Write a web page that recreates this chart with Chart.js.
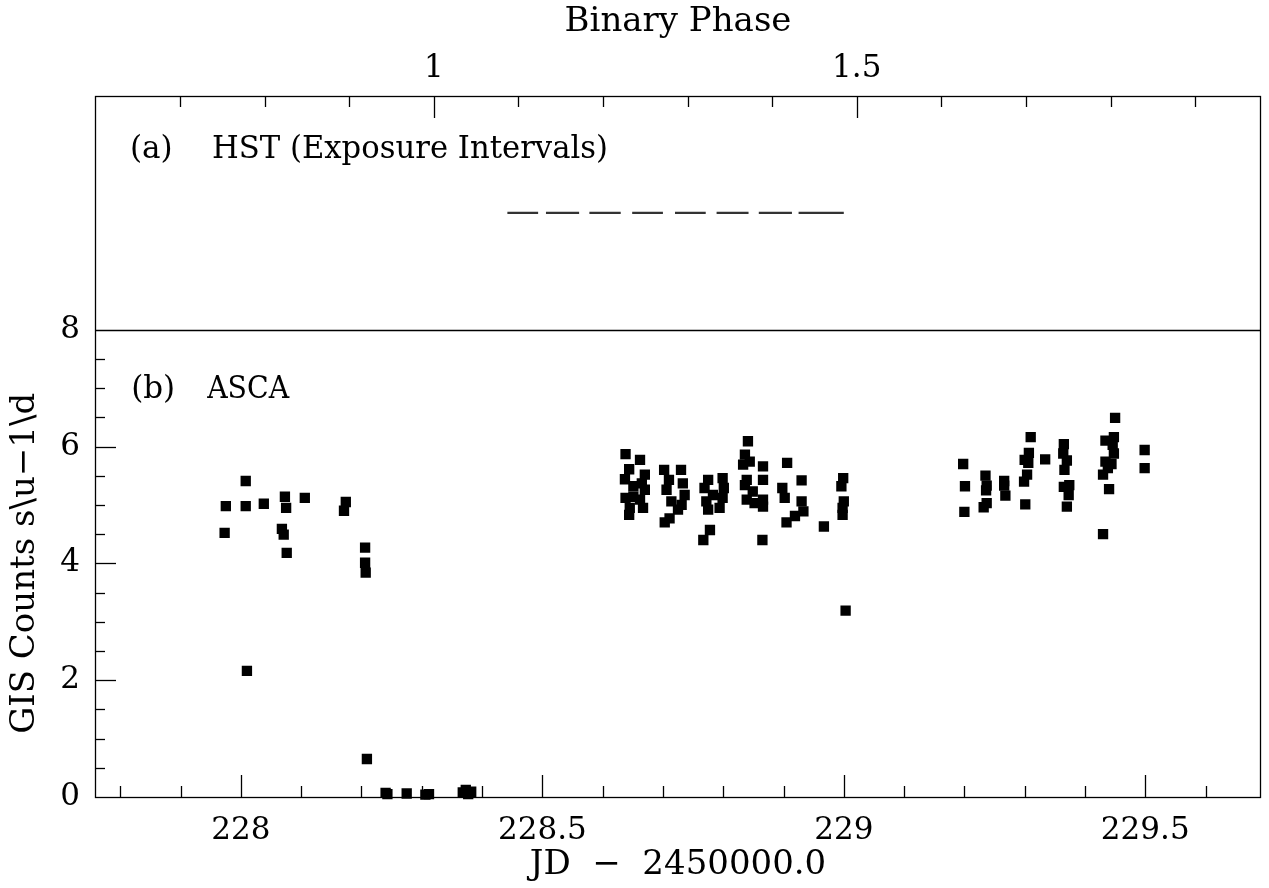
<!DOCTYPE html>
<html>
<head>
<meta charset="utf-8">
<title>HST / ASCA light curve</title>
<script src="https://cdn.jsdelivr.net/npm/chart.js@4.4.0/dist/chart.umd.min.js"></script>
<style>
  body { margin: 0; background: #fff; }
</style>
</head>
<body>
<canvas id="lightCurve" width="1269" height="888"></canvas>
<script>
// ASCA GIS count rates (JD - 2450000.0, counts/s)
const ascaJd = [
  227.973, 227.975, 228.008, 228.008, 228.010, 228.038, 228.068, 228.071, 228.073, 228.075,
  228.076, 228.106, 228.171, 228.174, 228.206, 228.206, 228.207, 228.209,
  228.240, 228.243, 228.275, 228.306, 228.312, 228.368, 228.373, 228.377, 228.382,
  228.638, 228.662, 228.644, 228.637, 228.670, 228.651, 228.665, 228.670, 228.638, 228.651,
  228.662, 228.645, 228.667, 228.644,
  228.702, 228.730, 228.710, 228.733, 228.706, 228.736, 228.714, 228.731, 228.725, 228.711, 228.703,
  228.775, 228.799, 228.769, 228.801, 228.783, 228.799, 228.772, 228.794, 228.775, 228.778, 228.767,
  228.841, 228.836, 228.844, 228.833, 228.866, 228.839, 228.866, 228.836, 228.849, 228.839,
  228.852, 228.866, 228.866, 228.865,
  228.906, 228.898, 228.902, 228.930, 228.930, 228.933, 228.919, 228.905, 228.967,
  228.999, 228.996, 229.000, 228.998, 228.998, 229.003,
  229.198, 229.201, 229.200, 229.235, 229.237, 229.236, 229.237, 229.232, 229.266, 229.266,
  229.268, 229.301, 229.310, 229.307, 229.300, 229.306, 229.304, 229.299, 229.334,
  229.365, 229.364, 229.370, 229.366, 229.374, 229.365, 229.373, 229.370,
  229.450, 229.448, 229.434, 229.446, 229.448, 229.434, 229.444, 229.438, 229.430, 229.440,
  229.430, 229.499, 229.499
];
const ascaCounts = [
  4.52, 4.98, 5.41, 4.98, 2.16, 5.02, 4.59, 4.49, 5.14, 4.95,
  4.18, 5.12, 4.90, 5.05, 4.27, 4.01, 3.84, 0.65,
  0.07, 0.05, 0.06, 0.04, 0.05, 0.08, 0.12, 0.05, 0.09,
  5.87, 5.77, 5.61, 5.44, 5.52, 5.32, 5.37, 5.26, 5.12, 5.14,
  5.09, 4.95, 4.95, 4.83,
  5.60, 5.60, 5.43, 5.37, 5.26, 5.17, 5.06, 5.00, 4.92, 4.77, 4.70,
  5.43, 5.46, 5.29, 5.29, 5.17, 5.12, 5.06, 4.95, 4.92, 4.57, 4.40,
  6.09, 5.86, 5.74, 5.69, 5.66, 5.43, 5.43, 5.34, 5.23, 5.09,
  5.03, 5.09, 4.97, 4.40,
  5.72, 5.29, 5.12, 5.42, 5.06, 4.89, 4.81, 4.70, 4.63,
  5.46, 5.32, 5.06, 4.95, 4.83, 3.19,
  5.70, 5.32, 4.88, 5.50, 5.33, 5.25, 5.03, 4.96, 5.41, 5.33,
  5.16, 5.01, 6.16, 5.89, 5.77, 5.72, 5.52, 5.40, 5.78,
  6.04, 5.88, 5.76, 5.60, 5.34, 5.31, 5.17, 4.97,
  6.49, 6.16, 6.10, 6.03, 5.88, 5.74, 5.70, 5.63, 5.52, 5.27,
  4.50, 5.94, 5.63
];

// HST exposure intervals (JD - 2450000.0)
const hstStart = [228.442, 228.506, 228.578, 228.649, 228.720, 228.789, 228.859, 228.925];
const hstEnd   = [228.493, 228.561, 228.630, 228.700, 228.771, 228.842, 228.914, 229.000];
const hstLevel = 10;

// axes
const jdTickLabels = [228, 228.5, 229, 229.5];
const countTickLabels = [0, 2, 4, 6, 8];
const phaseTickLabels = [1, 1.5];
const jdMin = 227.758, jdMax = 229.692;
const period = 1.403, phaseOneJd = 228.320;
const toPhase = jd => 1 + (jd - phaseOneJd) / period;

const font = '"DejaVu Serif", "Liberation Serif", serif';
const titleFont = {size: 34};
Chart.defaults.font.family = font;
Chart.defaults.font.size = 31;
Chart.defaults.color = '#000';

const hstPoints = [];
hstStart.forEach((s, i) => {
  hstPoints.push({x: s, y: hstLevel}, {x: hstEnd[i], y: hstLevel}, {x: hstEnd[i], y: null});
});

function line(ctx, x1, y1, x2, y2) {
  ctx.beginPath();
  ctx.moveTo(x1, y1);
  ctx.lineTo(x2, y2);
  ctx.stroke();
}

// box, separator, inward tick marks and panel labels
const framePlugin = {
  id: 'framePlugin',
  afterDatasetsDraw(chart) {
    const {ctx, chartArea: a, scales} = chart;
    const {x, y, yA, xPhase} = scales;
    const isMajor = (list, v) => list.some(t => Math.abs(t - v) < 1e-6);
    ctx.save();
    ctx.strokeStyle = '#000';
    ctx.lineWidth = 1.3;
    ctx.strokeRect(a.left + 0.5, a.top + 0.5, a.width - 1, a.height);
    const sep = Math.round(y.getPixelForValue(8)) + 0.5;
    line(ctx, a.left, sep, a.right, sep);

    for (let k = 2278; k <= 2296; k++) {
      const v = k / 10;
      const px = Math.round(x.getPixelForValue(v)) + 0.5;
      line(ctx, px, a.bottom, px, a.bottom - (isMajor(jdTickLabels, v) ? 22 : 11));
    }
    for (let k = 7; k <= 19; k++) {
      const v = k / 10;
      const px = Math.round(xPhase.getPixelForValue(v)) + 0.5;
      line(ctx, px, a.top, px, a.top + (isMajor(phaseTickLabels, v) ? 22 : 11));
    }
    for (let k = 1; k <= 15; k++) {
      const v = k / 2;
      const py = Math.round(y.getPixelForValue(v)) + 0.5;
      line(ctx, a.left, py, a.left + (isMajor(countTickLabels, v) ? 21 : 10), py);
    }

    ctx.fillStyle = '#000';
    ctx.font = '31px ' + font;
    ctx.textBaseline = 'middle';
    ctx.textAlign = 'left';
    ctx.fillText('(a)', x.getPixelForValue(227.816), yA.getPixelForValue(11.08));
    ctx.fillText('HST (Exposure Intervals)', x.getPixelForValue(227.952), yA.getPixelForValue(11.08), 396);
    ctx.fillText('(b)', x.getPixelForValue(227.818), y.getPixelForValue(6.96));
    ctx.fillText('ASCA', x.getPixelForValue(227.944), y.getPixelForValue(6.96), 82);
    ctx.restore();
  }
};

new Chart(document.getElementById('lightCurve'), {
  type: 'scatter',
  data: {
    datasets: [{
      label: 'ASCA',
      data: ascaJd.map((jd, i) => ({x: jd, y: ascaCounts[i]})),
      yAxisID: 'y',
      pointStyle: 'rect',
      pointRadius: 7.3,
      pointBackgroundColor: '#000',
      pointBorderWidth: 0,
      clip: 10
    }, {
      label: 'HST',
      data: hstPoints,
      yAxisID: 'yA',
      showLine: true,
      spanGaps: false,
      borderColor: '#333',
      borderWidth: 2.2,
      pointRadius: 0
    }]
  },
  options: {
    responsive: false,
    animation: false,
    layout: {padding: {left: 0, right: 8, top: 0, bottom: 0}, autoPadding: false},
    plugins: {legend: {display: false}, tooltip: {enabled: false}},
    scales: {
      x: {
        type: 'linear', position: 'bottom', min: jdMin, max: jdMax,
        afterBuildTicks: s => { s.ticks = jdTickLabels.map(v => ({value: v})); },
        afterFit: s => { s.height = 91; },
        ticks: {autoSkip: false, maxRotation: 0, padding: 15, callback: v => String(v)},
        grid: {display: false, drawTicks: false},
        border: {display: false},
        title: {display: true, text: 'JD  \u2212  2450000.0', font: titleFont, padding: {top: 0, bottom: 2}}
      },
      xPhase: {
        type: 'linear', position: 'top', min: toPhase(jdMin), max: toPhase(jdMax),
        afterBuildTicks: s => { s.ticks = phaseTickLabels.map(v => ({value: v})); },
        afterFit: s => { s.height = 96; },
        ticks: {autoSkip: false, maxRotation: 0, padding: 8, callback: v => String(v)},
        grid: {display: false, drawTicks: false},
        border: {display: false},
        title: {display: true, text: 'Binary Phase', font: titleFont, padding: {top: 2, bottom: 0}}
      },
      y: {
        type: 'linear', position: 'left', min: 0, max: 8,
        stack: 'panels', stackWeight: 8,
        afterBuildTicks: s => { s.ticks = countTickLabels.map(v => ({value: v})); },
        afterFit: s => { s.width = 95; },
        ticks: {autoSkip: false, padding: 15, callback: v => String(v)},
        grid: {display: false, drawTicks: false},
        border: {display: false},
        title: {display: true, text: 'GIS Counts s\\u\u22121\\d', font: titleFont, padding: {top: 5, bottom: 0}}
      },
      yA: {
        type: 'linear', position: 'left', min: 8, max: 12,
        stack: 'panels', stackWeight: 4,
        afterFit: s => { s.width = 95; },
        ticks: {display: false},
        grid: {display: false, drawTicks: false},
        border: {display: false}
      }
    }
  },
  plugins: [framePlugin]
});
</script>
</body>
</html>
